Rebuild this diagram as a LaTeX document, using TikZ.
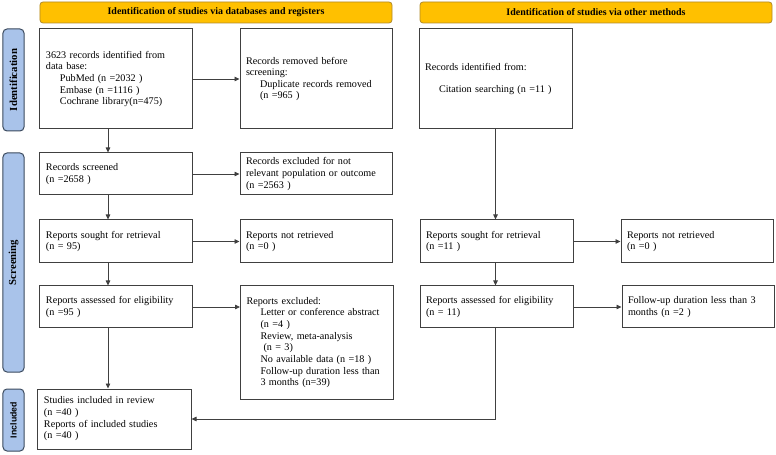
\documentclass[tikz,border=0pt]{standalone}
\usepackage{fontspec}
\setmainfont{Liberation Serif}
\newfontfamily\labsans{Liberation Sans}
\usetikzlibrary{arrows.meta}
\definecolor{hdrfill}{HTML}{FFC000}
\definecolor{hdrdraw}{HTML}{B08A2A}
\definecolor{sidefill}{HTML}{A9C3EA}
\definecolor{sidedraw}{HTML}{3B4A5E}
\definecolor{linec}{HTML}{404040}
\begin{document}
\begin{tikzpicture}[x=1bp,y=-1bp,
 box/.style={draw=linec, line width=1bp, fill=white, align=left, inner xsep=6bp, inner ysep=2bp, font=\fontsize{10.2}{11.7}\selectfont},
 hdr/.style={draw=hdrdraw, fill=hdrfill, rounded corners=3bp, line width=0.8bp, minimum width=352bp, minimum height=21bp, inner sep=0pt, font=\bfseries\fontsize{10}{12}\selectfont},
 side/.style={draw=sidedraw, fill=sidefill, rounded corners=4bp, line width=1bp, rotate=90, minimum height=21bp, inner sep=0pt, font=\bfseries\fontsize{10.8}{12}\selectfont},
 arr/.style={draw=linec, line width=0.8bp, -{Triangle[length=5bp,width=4.5bp]}},
]
\useasboundingbox (0,0) rectangle (776,455);

% headers
\node[hdr] (h1) at (216,12.5) {Identification of studies via databases and registers};
\node[hdr] (h2) at (596,12.5) {Identification of studies via other methods};

% side labels
\node[side, minimum width=102bp] (s1) at (13.5,80) {Identification};
\node[side, minimum width=219bp] (s2) at (13.5,262.5) {Screening};
\node[side, minimum width=62bp, font=\labsans\bfseries\fontsize{8.8}{10}\selectfont] (s3) at (13.5,420) {Included};

% left column
\node[box, text width=140bp, minimum height=100bp] (A) at (116,79)
 {3623 records identified from\\data base:\\\hspace*{14bp}PubMed (n =2032 )\\\hspace*{14bp}Embase (n =1116 )\\\hspace*{14bp}Cochrane library(n=475)};
\node[box, text width=140bp, minimum height=100bp] (B) at (316,79)
 {Records removed before\\screening:\\\hspace*{14bp}Duplicate records removed\\\hspace*{14bp}(n =965 )};
\node[box, text width=140bp, minimum height=42bp] (D) at (116,174)
 {Records screened\\(n =2658 )};
\node[box, text width=140bp, minimum height=42bp] (E) at (316,174)
 {Records excluded for not\\relevant population or outcome\\(n =2563 )};
\node[box, text width=140bp, minimum height=43bp] (F) at (116,241.5)
 {Reports sought for retrieval\\(n = 95)};
\node[box, text width=140bp, minimum height=43bp] (G) at (316,241.5)
 {Reports not retrieved\\(n =0 )};
\node[box, text width=140bp, minimum height=42bp] (H) at (116,307)
 {Reports assessed for eligibility\\(n =95 )};
\node[box, text width=141bp, minimum height=113bp] (I) at (317,342.5)
 {Reports excluded:\\\hspace*{14bp}Letter or conference abstract\\\hspace*{14bp}(n =4 )\\\hspace*{14bp}Review, meta-analysis\\\hspace*{17bp}(n = 3)\\\hspace*{14bp}No available data (n =18 )\\\hspace*{14bp}Follow-up duration less than\\\hspace*{14bp}3 months (n=39)};
\node[box, text width=141bp, minimum height=60bp] (J) at (114.5,419)
 {Studies included in review\\(n =40 )\\Reports of included studies\\(n =40 )};

% right column
\node[box, text width=141bp, minimum height=100bp] (C) at (495.5,79)
 {Records identified from:\\[10bp]\hspace*{14bp}Citation searching (n =11 )};
\node[box, text width=141bp, minimum height=43bp] (K) at (496.5,241.5)
 {Reports sought for retrieval\\(n =11 )};
\node[box, text width=140bp, minimum height=43bp] (L) at (697,241.5)
 {Reports not retrieved\\(n =0 )};
\node[box, text width=141bp, minimum height=42bp] (M) at (496.5,307)
 {Reports assessed for eligibility\\(n = 11)};
\node[box, text width=140bp, minimum height=42bp] (N) at (698,307)
 {Follow-up duration less than 3\\months (n =2 )};

% connectors
\coordinate (lx) at (108,0);
\draw[arr] (A.south -| lx) -- (D.north -| lx);
\draw[arr] (D.south -| lx) -- (F.north -| lx);
\draw[arr] (F.south -| lx) -- (H.north -| lx);
\draw[arr] (H.south -| lx) -- (J.north -| lx);
\draw[arr] (A.east) -- (B.west);
\draw[arr] (D.east) -- (E.west);
\draw[arr] (F.east) -- (G.west);
\draw[arr] (H.east) -- (H.east -| I.west);
\draw[arr] (C.south) -- (C.south |- K.north);
\draw[arr] (K.south -| C.south) -- (M.north -| C.south);
\draw[arr] (K.east) -- (L.west);
\draw[arr] (M.east) -- (N.west);
\draw[arr] (M.south -| C.south) |- (J.east);
\end{tikzpicture}
\end{document}
